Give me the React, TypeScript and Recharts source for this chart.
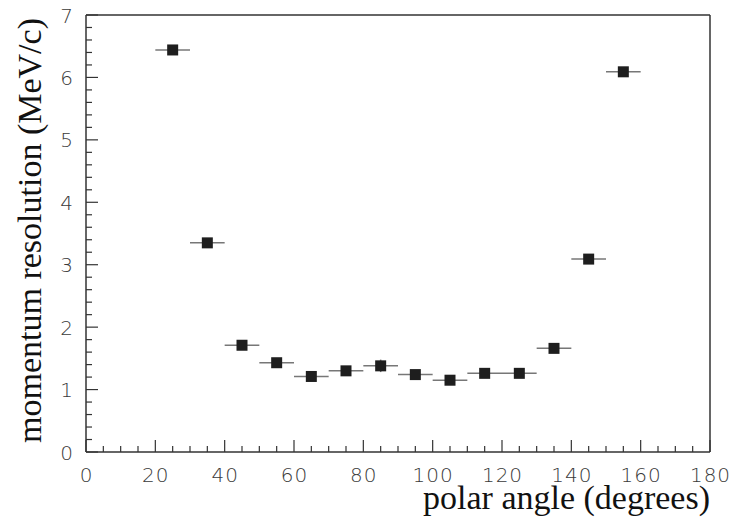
import React from "react";
import { ScatterChart, Scatter, XAxis, YAxis, ErrorBar } from "recharts";

const angles = [25, 35, 45, 55, 65, 75, 85, 95, 105, 115, 125, 135, 145, 155];
const resolution = [6.44, 3.35, 1.71, 1.43, 1.21, 1.3, 1.38, 1.24, 1.15, 1.26, 1.26, 1.66, 3.09, 6.09];
const angleErr = [5, 5, 5, 5, 5, 5, 5, 5, 5, 5, 5, 5, 5, 5];
const resErr = [0.05, 0.05, 0.05, 0.05, 0.05, 0.05, 0.1, 0.05, 0.05, 0.05, 0.05, 0.05, 0.05, 0.05];

const xMajorTicks = [0, 20, 40, 60, 80, 100, 120, 140, 160, 180];
const xMinorStep = 5;
const yMajorTicks = [0, 1, 2, 3, 4, 5, 6, 7];
const yMinorStep = 0.2;

const xTitle = "polar angle (degrees)";
const yTitle = "momentum resolution (MeV/c)";

const data = angles.map((a, i) => ({
  angle: a,
  res: resolution[i],
  aErr: angleErr[i],
  rErr: resErr[i],
}));

const xAllTicks: number[] = [];
for (let v = 0; v <= 180 + 1e-9; v += xMinorStep) xAllTicks.push(Math.round(v * 100) / 100);
const yAllTicks: number[] = [];
for (let v = 0; v <= 7 + 1e-9; v += yMinorStep) yAllTicks.push(Math.round(v * 100) / 100);

const AXIS = "#333";
const TICK_FONT = "'DejaVu Sans ExtraLight', 'DejaVu Sans', sans-serif";

const XTick = (props: any) => {
  const { x, y, payload } = props;
  const v = payload.value;
  const major = xMajorTicks.some((m) => Math.abs(m - v) < 1e-6);
  return (
    <g>
      <line x1={x} x2={x} y1={y} y2={y - (major ? 12 : 6)} stroke={AXIS} strokeWidth={1.2} />
      {major && (
        <text x={x + 0.5} y={y + 30} textAnchor="middle" fontFamily={TICK_FONT} fontWeight={200} fontSize={20} letterSpacing={1} fill="#3a3a3a">
          {v}
        </text>
      )}
    </g>
  );
};

const YTick = (props: any) => {
  const { x, y, payload } = props;
  const v = payload.value;
  const major = yMajorTicks.some((m) => Math.abs(m - v) < 1e-6);
  return (
    <g>
      <line x1={x} x2={x + (major ? 12 : 6)} y1={y} y2={y} stroke={AXIS} strokeWidth={1.2} />
      {major && (
        <text x={x - 13} y={y + 7.5} textAnchor="end" fontFamily={TICK_FONT} fontWeight={200} fontSize={20} fill="#3a3a3a">
          {v}
        </text>
      )}
    </g>
  );
};

const SquareMarker = (props: any) => {
  const { cx, cy } = props;
  if (cx == null || cy == null) return null;
  return <rect x={cx - 5.5} y={cy - 5.5} width={11} height={11} fill="#1e1e1e" />;
};

const XTitle = (props: any) => {
  const vb = props.viewBox || {};
  return (
    <text x={vb.x + vb.width} y={vb.y + 57} textAnchor="end" fontFamily="'Liberation Serif', serif" fontSize={34} fill="#111">
      {xTitle}
    </text>
  );
};

const YTitle = (props: any) => {
  const vb = props.viewBox || {};
  const cx = 41;
  const cy = vb.y + vb.height / 2 - 3;
  return (
    <text x={cx} y={cy} transform={`rotate(-90, ${cx}, ${cy})`} textAnchor="middle" fontFamily="'Liberation Serif', serif" fontSize={34} fill="#111">
      {yTitle}
    </text>
  );
};

export default function App() {
  return (
    <div style={{ position: "absolute", left: 0, top: 0, width: 735, height: 521, background: "#fff" }}>
      <ScatterChart width={735} height={521} margin={{ top: 14, right: 24, bottom: 68, left: 85 }}>
        <XAxis
          xAxisId="main"
          dataKey="angle"
          type="number"
          domain={[0, 180]}
          ticks={xAllTicks}
          interval={0}
          tick={<XTick />}
          tickSize={0}
          tickMargin={0}
          tickLine={false}
          height={1}
          axisLine={{ stroke: AXIS, strokeWidth: 1.5 }}
          allowDataOverflow
          label={<XTitle />}
        />
        <XAxis
          xAxisId="top"
          orientation="top"
          type="number"
          domain={[0, 180]}
          tick={false}
          tickLine={false}
          height={1}
          axisLine={{ stroke: AXIS, strokeWidth: 1.5 }}
        />
        <YAxis
          yAxisId="main"
          dataKey="res"
          type="number"
          domain={[0, 7]}
          ticks={yAllTicks}
          interval={0}
          tick={<YTick />}
          tickSize={0}
          tickMargin={0}
          tickLine={false}
          width={1}
          axisLine={{ stroke: AXIS, strokeWidth: 1.5 }}
          allowDataOverflow
          label={<YTitle />}
        />
        <YAxis
          yAxisId="right"
          orientation="right"
          type="number"
          domain={[0, 7]}
          tick={false}
          tickLine={false}
          width={1}
          axisLine={{ stroke: AXIS, strokeWidth: 1.5 }}
        />
        <Scatter data={data} xAxisId="main" yAxisId="main" shape={<SquareMarker />} isAnimationActive={false}>
          <ErrorBar dataKey="aErr" direction="x" width={0} stroke="#777" strokeWidth={1.5} isAnimationActive={false} />
          <ErrorBar dataKey="rErr" direction="y" width={0} stroke="#777" strokeWidth={1.5} isAnimationActive={false} />
        </Scatter>
      </ScatterChart>
    </div>
  );
}
